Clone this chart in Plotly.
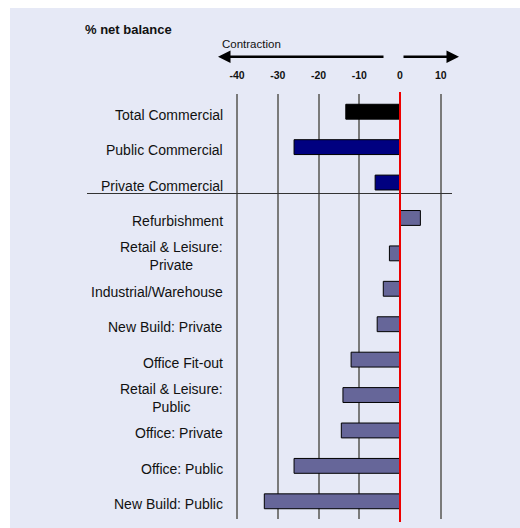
import plotly.graph_objects as go

categories = ["Total Commercial", "Public Commercial", "Private Commercial",
              "Refurbishment", "Retail & Leisure:<br>Private", "Industrial/Warehouse",
              "New Build: Private", "Office Fit-out", "Retail & Leisure:<br>Public",
              "Office: Private", "Office: Public", "New Build: Public"]
values = [-13.3, -26, -6.1, 5, -2.6, -4.1, -5.6, -12, -14, -14.4, -26, -33.3]
bar_colors = ["#000000", "#000080", "#000080"] + ["#666699"] * 9
tick_vals = [-40, -30, -20, -10, 0, 10]
tick_text = ["-40", "-30", "-20", "-10", "0", "10"]

BG = "#E6E9F6"
W, H = 520, 528
L, R, T, B = 235, 452, 94, 519
X0PIX = 400.0
SCALE = 4.075  # pixels per unit, used only for range choice


def px(xp):
    return (xp - L) / (R - L)


def py(yp):
    return (B - yp) / (B - T)


FONT = "Arial, Liberation Sans"

fig = go.Figure()
fig.add_trace(go.Bar(
    x=values, y=categories, orientation="h", width=0.42,
    marker=dict(color=bar_colors, line=dict(color="#000000", width=1)),
    showlegend=False, hoverinfo="skip"))

annotations = []
for c in categories:
    annotations.append(dict(x=px(225), xref="paper", y=c, yref="y", text=c,
                            showarrow=False, xanchor="right", align="center",
                            yshift=-3,
                            font=dict(family=FONT, size=14, color="#111111")))
annotations.append(dict(x=px(83), xref="paper", y=py(30), yref="paper", text="<b>% net balance</b>",
                        showarrow=False, xanchor="left", yanchor="middle",
                        font=dict(family=FONT, size=13, color="#111111")))
annotations.append(dict(x=px(220), xref="paper", y=py(44), yref="paper", text="Contraction",
                        showarrow=False, xanchor="left", yanchor="middle",
                        font=dict(family=FONT, size=11.5, color="#111111")))
annotations.append(dict(x=px(218), xref="paper", y=py(56.7), yref="paper", text="",
                        showarrow=True, ax=167, ay=0, axref="pixel", ayref="pixel",
                        arrowhead=2, arrowsize=1, arrowwidth=2.5, arrowcolor="#000000"))
annotations.append(dict(x=px(459), xref="paper", y=py(56.7), yref="paper", text="",
                        showarrow=True, ax=-57, ay=0, axref="pixel", ayref="pixel",
                        arrowhead=2, arrowsize=1, arrowwidth=2.5, arrowcolor="#000000"))

shapes = [
    dict(type="rect", xref="paper", yref="paper", x0=px(0), x1=px(W), y0=py(0), y1=py(8),
         fillcolor="white", line=dict(width=0), layer="below"),
    dict(type="rect", xref="paper", yref="paper", x0=px(0), x1=px(10), y0=py(0), y1=py(H),
         fillcolor="white", line=dict(width=0), layer="below"),
    dict(type="line", xref="paper", yref="paper", x0=px(87), x1=px(452), y0=py(193.5), y1=py(193.5),
         line=dict(color="#333333", width=1.2)),
    dict(type="line", xref="x", yref="paper", x0=0, x1=0, y0=py(522), y1=py(92),
         line=dict(color="#EE0000", width=2)),
]

fig.update_layout(
    width=W, height=H,
    margin=dict(l=L, r=W - R, t=T, b=H - B, pad=0),
    paper_bgcolor=BG, plot_bgcolor=BG,
    xaxis=dict(range=[-(X0PIX - L) / SCALE, (R - X0PIX) / SCALE], side="top",
               tickvals=tick_vals, ticktext=tick_text,
               showgrid=True, gridcolor="#7A7A7A", gridwidth=1.6, zeroline=False,
               showline=False, ticks="outside", ticklen=10, tickcolor=BG,
               tickfont=dict(family=FONT, size=10.5, color="#111111", weight="bold")),
    yaxis=dict(autorange="reversed", showticklabels=False, showgrid=False,
               zeroline=False, showline=False),
    annotations=annotations, shapes=shapes,
)

fig.write_html("out.html")
